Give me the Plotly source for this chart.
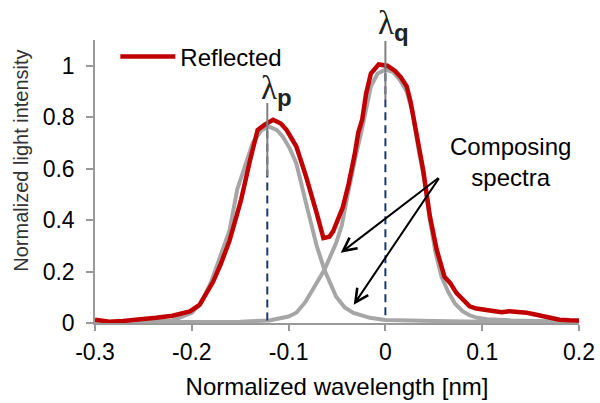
import plotly.graph_objects as go

# ---------------- data ----------------
red_x = [-0.300, -0.285, -0.271, -0.254, -0.237, -0.220, -0.202, -0.192, -0.183, -0.178,
         -0.170, -0.161, -0.155, -0.149, -0.140, -0.136, -0.132, -0.125, -0.116, -0.108,
         -0.102, -0.092, -0.082, -0.071, -0.064, -0.058, -0.054, -0.044, -0.038, -0.032,
         -0.028, -0.024, -0.020, -0.015, -0.007, 0.002, 0.010, 0.016, 0.022, 0.026,
         0.030, 0.035, 0.039, 0.046, 0.053, 0.061, 0.067, 0.0735, 0.080, 0.087,
         0.094, 0.103, 0.111, 0.120, 0.128, 0.136, 0.146, 0.156, 0.168, 0.180,
         0.190, 0.200]
red_y = [0.013, 0.005, 0.008, 0.012, 0.020, 0.028, 0.045, 0.070, 0.130, 0.160,
         0.230, 0.320, 0.400, 0.480, 0.630, 0.700, 0.750, 0.770, 0.790, 0.775,
         0.750, 0.686, 0.570, 0.427, 0.330, 0.335, 0.356, 0.450, 0.540, 0.650,
         0.740, 0.790, 0.890, 0.970, 1.005, 1.000, 0.980, 0.955, 0.920, 0.860,
         0.780, 0.660, 0.595, 0.414, 0.285, 0.180, 0.155, 0.116, 0.090, 0.065,
         0.056, 0.050, 0.045, 0.042, 0.046, 0.045, 0.040, 0.032, 0.022, 0.013,
         0.011, 0.010]

grayL_x = [-0.300, -0.250, -0.220, -0.200, -0.190, -0.180, -0.170, -0.161, -0.153, -0.147,
           -0.137, -0.128, -0.120, -0.112, -0.106, -0.099, -0.092, -0.082, -0.071, -0.063,
           -0.057, -0.051, -0.042, -0.033, -0.016, 0.000, 0.050, 0.100, 0.200]
grayL_y = [0.003, 0.005, 0.010, 0.040, 0.080, 0.160, 0.260, 0.360, 0.520, 0.590,
           0.700, 0.750, 0.763, 0.750, 0.724, 0.680, 0.620, 0.466, 0.300, 0.207,
           0.150, 0.103, 0.060, 0.039, 0.020, 0.012, 0.008, 0.005, 0.003]

grayR_x = [-0.300, -0.200, -0.150, -0.120, -0.100, -0.092, -0.083, -0.075, -0.063, -0.051,
           -0.045, -0.040, -0.035, -0.030, -0.025, -0.020, -0.015, -0.008, 0.000, 0.008,
           0.015, 0.022, 0.028, 0.034, 0.040, 0.046, 0.052, 0.058, 0.065, 0.072,
           0.080, 0.087, 0.095, 0.105, 0.130, 0.200]
grayR_y = [0.003, 0.003, 0.005, 0.010, 0.025, 0.040, 0.080, 0.130, 0.207, 0.310,
           0.380, 0.480, 0.580, 0.660, 0.740, 0.840, 0.920, 0.970, 0.985, 0.975,
           0.945, 0.900, 0.820, 0.680, 0.560, 0.400, 0.270, 0.180, 0.120, 0.075,
           0.045, 0.030, 0.020, 0.015, 0.010, 0.005]

lambda_p = -0.122
lambda_q = 0.0
peak_p = 0.78
peak_q = 1.0

x_ticks = [-0.3, -0.2, -0.1, 0, 0.1, 0.2]
x_ticktext = ["-0.3", "-0.2", "-0.1", "0", "0.1", "0.2"]
y_ticks = [0, 0.2, 0.4, 0.6, 0.8, 1.0]
y_ticktext = ["0", "0.2", "0.4", "0.6", "0.8", "1"]

FONT = "Liberation Sans, Arial, sans-serif"
RED = "#C00000"
GRAY = "#A6A6A6"
NAVY = "#1F3864"

fig = go.Figure()
fig.add_trace(go.Scatter(x=grayL_x, y=grayL_y, mode="lines", showlegend=False,
                         line=dict(color=GRAY, width=4)))
fig.add_trace(go.Scatter(x=grayR_x, y=grayR_y, mode="lines", showlegend=False,
                         line=dict(color=GRAY, width=4)))
fig.add_trace(go.Scatter(x=red_x, y=red_y, mode="lines", name="Reflected",
                         line=dict(color=RED, width=4.5)))

# dashed navy markers of the peaks
for lx, top, bot in [(lambda_p, peak_p, 0.01), (lambda_q, peak_q, 0.03)]:
    fig.add_shape(type="line", xref="x", yref="y", x0=lx, x1=lx, y0=bot, y1=top,
                  line=dict(color=NAVY, width=2, dash="8px,5px"), layer="above")

# short gray leader lines under the lambda labels
fig.add_shape(type="line", xref="x", yref="y", x0=lambda_p, x1=lambda_p, y0=0.572, y1=0.855,
              line=dict(color="#808080", width=2), layer="above")
fig.add_shape(type="line", xref="x", yref="y", x0=lambda_q, x1=lambda_q, y0=0.867, y1=1.096,
              line=dict(color="#808080", width=2), layer="above")

lam = '<span style="font-family:Liberation Serif">λ</span>'
fig.add_annotation(x=lambda_p + 0.009, y=0.902, xref="x", yref="paper", showarrow=False,
                   text=lam + '<sub><b><span style="font-size:24px">p</span></b></sub>',
                   font=dict(family=FONT, size=33, color="#222222"))
fig.add_annotation(x=lambda_q + 0.008, y=1.131, xref="x", yref="paper", showarrow=False,
                   text=lam + '<sub><b><span style="font-size:24px">q</span></b></sub>',
                   font=dict(family=FONT, size=33, color="#222222"))

# Composing spectra label and arrows
fig.add_annotation(x=0.1297, y=0.625, xref="x", yref="y", showarrow=False,
                   text="Composing<br>spectra", align="center",
                   font=dict(family=FONT, size=24, color="#000000"))
for hx, hy in [(-0.0461, 0.273), (-0.0327, 0.071)]:
    fig.add_annotation(x=hx, y=hy, ax=0.0563, ay=0.568, xref="x", yref="y", axref="x", ayref="y",
                       text="", showarrow=True, arrowhead=5, arrowsize=1.3, arrowwidth=2,
                       arrowcolor="#000000")

# y-axis title placed as in the reference
fig.add_annotation(x=-0.152, y=0.575, xref="paper", yref="paper", showarrow=False,
                   xanchor="center", yanchor="middle",
                   text="Normalized light intensity", textangle=-90,
                   font=dict(family=FONT, size=20, color="#333333"))

fig.update_layout(
    width=600, height=403,
    margin=dict(l=95, r=21, t=40, b=80),
    paper_bgcolor="white", plot_bgcolor="white",
    font=dict(family=FONT, size=23, color="#000000"),
    showlegend=True,
    legend=dict(x=0.042, y=1.02, xanchor="left", yanchor="top", bgcolor="rgba(0,0,0,0)",
                font=dict(family=FONT, size=24, color="#000000"), itemwidth=55),
    xaxis=dict(range=[-0.3, 0.2], tickvals=x_ticks, ticktext=x_ticktext, automargin=False,
               showgrid=False, zeroline=False, showline=True, linecolor="#999999", linewidth=1.5,
               ticks="outside", ticklen=6, tickcolor="#999999", tickwidth=1.5,
               tickfont=dict(size=23), ticklabelstandoff=2,
               title=dict(text="Normalized wavelength [nm]", font=dict(size=24), standoff=14)),
    yaxis=dict(range=[0, 1.1], tickvals=y_ticks, ticktext=y_ticktext, automargin=False,
               showgrid=False, zeroline=False, showline=True, linecolor="#999999", linewidth=1.5,
               ticks="outside", ticklen=7, tickcolor="#999999", tickwidth=1.5,
               tickfont=dict(size=23), ticklabelstandoff=7),
)

fig.write_html("out.html")
